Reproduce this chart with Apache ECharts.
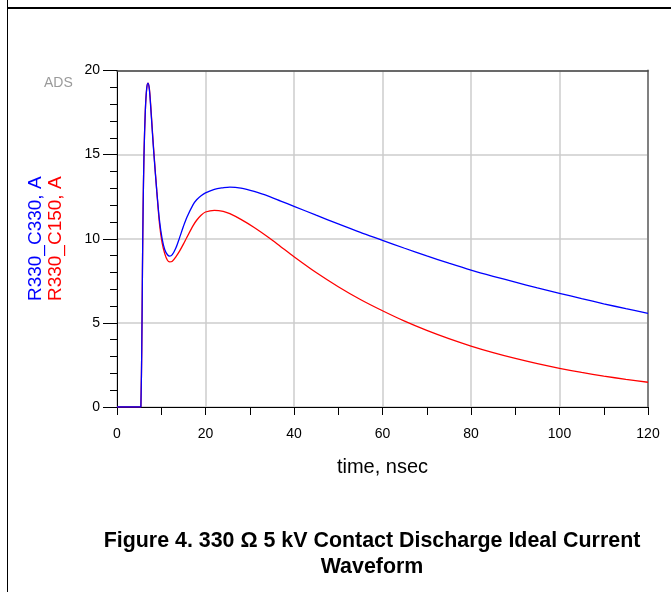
<!DOCTYPE html>
<html>
<head>
<meta charset="utf-8">
<script src="https://cdn.jsdelivr.net/npm/echarts@6.0.0/dist/echarts.min.js"></script>
<style>
  html, body { margin: 0; padding: 0; background: #fff; }
  #wrap { position: relative; width: 671px; height: 592px; overflow: hidden; }
  #chart { position: absolute; left: 0; top: 0; width: 671px; height: 592px; }
  #vline { position: absolute; left: 7px; top: 0; width: 1px; height: 592px; background: #000; }
  #hline { position: absolute; left: 7px; top: 7px; width: 664px; height: 2px; background: #000; }
</style>
</head>
<body>
<div id="wrap">
  <div id="chart"></div>
  <div id="vline"></div>
  <div id="hline"></div>
</div>
<script>
// time, nsec
const timeNs = [0, 5.4, 5.5, 5.6, 5.75, 5.9, 6.1, 6.4, 6.7, 7.0, 7.3, 7.6, 8.0, 8.4, 9.0, 9.6, 10.2, 10.8, 11.4, 11.9, 12.5, 13.3, 14.2, 15.0, 15.8, 17.2, 18, 19, 20, 22, 24, 25.5, 28, 31, 34.5, 37, 40, 45, 50, 55, 60, 65, 70, 75, 80, 85, 90, 95, 100, 105, 110, 115, 120];
// R330_C330, A
const currentC330 = [0, 0, 0, 3.5, 8.1, 11.8, 15.0, 17.6, 18.9, 19.25, 18.9, 17.9, 16.3, 14.8, 12.8, 11.1, 10.0, 9.35, 9.05, 8.97, 9.06, 9.45, 10.11, 10.73, 11.28, 12.03, 12.32, 12.56, 12.73, 12.94, 13.03, 13.07, 13.01, 12.81, 12.5, 12.24, 11.93, 11.4, 10.88, 10.38, 9.91, 9.435, 8.98, 8.55, 8.14, 7.77, 7.42, 7.08, 6.76, 6.44, 6.135, 5.845, 5.57];
// R330_C150, A
const currentC150 = [0, 0, 0, 3.5, 8.1, 11.8, 15.0, 17.6, 18.9, 19.25, 18.95, 18.0, 16.4, 14.9, 12.8, 10.9, 9.75, 9.1, 8.72, 8.62, 8.66, 8.92, 9.29, 9.68, 10.09, 10.78, 11.1, 11.4, 11.59, 11.69, 11.63, 11.49, 11.15, 10.67, 10.03, 9.53, 8.93, 7.99, 7.15, 6.39, 5.72, 5.1, 4.55, 4.06, 3.62, 3.23, 2.885, 2.575, 2.3, 2.056, 1.838, 1.643, 1.47];

const xTicks = { min: 0, max: 120, interval: 20 };
const yTicks = { min: 0, max: 20, interval: 5 };

const seriesNameBlue = 'R330_C330, A';
const seriesNameRed = 'R330_C150, A';
const xName = 'time, nsec';
const caption = 'Figure 4. 330 Ω 5 kV Contact Discharge Ideal Current\nWaveform';

const chart = echarts.init(document.getElementById('chart'), null, { renderer: 'canvas' });
const FONT = '"Liberation Sans", Arial, sans-serif';

chart.setOption({
  animation: false,
  backgroundColor: 'transparent',
  textStyle: { fontFamily: FONT },
  title: {
    text: caption,
    left: 367,
    textAlign: 'center',
    top: 523,
    textStyle: { fontFamily: FONT, fontSize: 21.4, fontWeight: 'bold', color: '#000', lineHeight: 26 }
  },
  graphic: [{
    type: 'text', left: 44, top: 76,
    style: { text: 'ADS', fill: '#9a9a9a', font: '14px ' + FONT }
  }],
  grid: { left: 117, right: 23, top: 70.5, bottom: 185, containLabel: false },
  xAxis: [{
    type: 'value', min: xTicks.min, max: xTicks.max, interval: xTicks.interval,
    name: xName, nameLocation: 'middle', nameGap: 50,
    nameTextStyle: { fontFamily: FONT, fontSize: 20, color: '#000' },
    axisLine: { show: true, onZero: false, lineStyle: { color: '#000', width: 1 } },
    axisTick: { show: true, length: 8, lineStyle: { color: '#000' } },
    minorTick: { show: true, splitNumber: 2, length: 8, lineStyle: { color: '#000' } },
    axisLabel: { margin: 20, fontFamily: FONT, fontSize: 14, color: '#000' },
    splitLine: { show: true, lineStyle: { color: '#cccccc', width: 1.5 } }
  }, {
    type: 'value', position: 'top', min: xTicks.min, max: xTicks.max,
    axisLine: { show: true, onZero: false, lineStyle: { color: '#444', width: 1.5 } },
    axisTick: { show: false }, axisLabel: { show: false }, splitLine: { show: false }
  }],
  yAxis: [{
    type: 'value', min: yTicks.min, max: yTicks.max, interval: yTicks.interval,
    name: '{b|' + seriesNameBlue + '}\n{r|' + seriesNameRed + '}',
    nameLocation: 'middle', nameGap: 51, nameRotate: 90,
    nameTextStyle: {
      fontFamily: FONT, fontSize: 19, lineHeight: 20,
      rich: {
        b: { color: '#0000ff', fontSize: 19, fontFamily: FONT, lineHeight: 20 },
        r: { color: '#ff0000', fontSize: 19, fontFamily: FONT, lineHeight: 20 }
      }
    },
    axisLine: { show: true, onZero: false, lineStyle: { color: '#000', width: 1 } },
    axisTick: { show: true, length: 14, lineStyle: { color: '#000' } },
    minorTick: { show: true, splitNumber: 5, length: 7, lineStyle: { color: '#000' } },
    axisLabel: { margin: 17, fontFamily: FONT, fontSize: 14, color: '#000' },
    splitLine: { show: true, lineStyle: { color: '#cccccc', width: 1.5 } }
  }, {
    type: 'value', position: 'right', min: yTicks.min, max: yTicks.max,
    axisLine: { show: true, onZero: false, lineStyle: { color: '#808080', width: 2 } },
    axisTick: { show: false }, axisLabel: { show: false }, splitLine: { show: false }
  }],
  series: [{
    name: seriesNameRed, type: 'line', xAxisIndex: 0, yAxisIndex: 0,
    data: timeNs.map((t, i) => [t, currentC150[i]]),
    showSymbol: false, smooth: 0.3,
    lineStyle: { color: '#ff0000', width: 1.3 }, z: 3
  }, {
    name: seriesNameBlue, type: 'line', xAxisIndex: 0, yAxisIndex: 0,
    data: timeNs.map((t, i) => [t, currentC330[i]]),
    showSymbol: false, smooth: 0.3,
    lineStyle: { color: '#0000ff', width: 1.3 }, z: 4
  }]
});
</script>
</body>
</html>
